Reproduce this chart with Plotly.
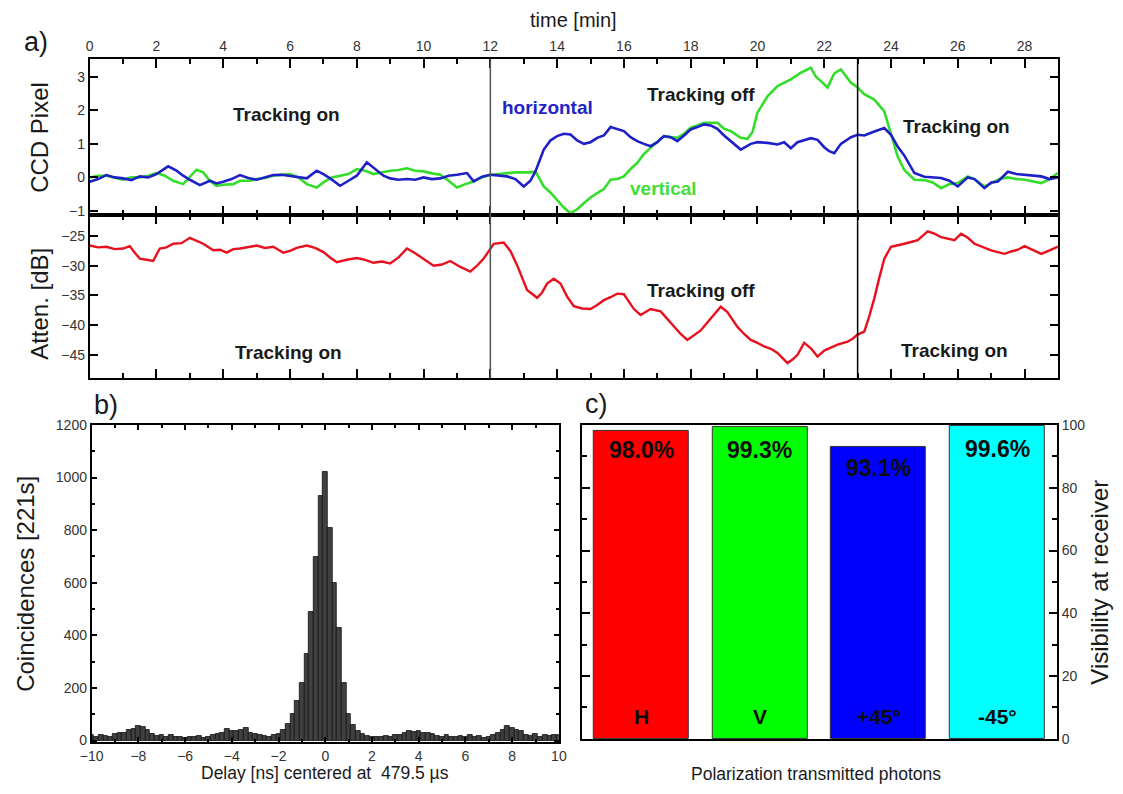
import plotly.graph_objects as go

W, H = 1123, 794

# ---------------- Panel a data ----------------
t_h = [0, 0.25, 0.5, 0.75, 1, 1.25, 1.5, 1.75, 2, 2.15, 2.35, 2.6, 2.8, 3, 3.3, 3.6, 3.8, 4, 4.25, 4.5, 4.75,
       5, 5.25, 5.5, 5.75, 6, 6.25, 6.5, 6.8, 7.0, 7.2, 7.5, 7.75, 8, 8.3, 8.6, 8.8, 9, 9.25, 9.5, 9.75,
       10, 10.25, 10.5, 10.75, 11, 11.3, 11.5, 11.75, 12, 12.25, 12.5, 12.75, 13, 13.2, 13.35, 13.6, 13.8,
       14, 14.2, 14.4, 14.6, 14.8, 15, 15.2, 15.4, 15.6, 15.8, 16, 16.2, 16.4, 16.6, 16.8, 17, 17.2, 17.4,
       17.6, 17.8, 18, 18.2, 18.4, 18.6, 18.8, 19, 19.2, 19.5, 19.8, 20, 20.3, 20.6, 20.8, 21, 21.2, 21.4,
       21.6, 21.8, 22, 22.15, 22.3, 22.5, 22.8, 23, 23.2, 23.5, 23.8, 24, 24.2, 24.4, 24.7, 25, 25.25, 25.5,
       25.75, 26, 26.3, 26.5, 26.8, 27, 27.2, 27.5, 27.75, 28, 28.25, 28.5, 28.75, 29]
ccd_horizontal = [-0.13, -0.05, 0.07, 0.0, -0.03, -0.08, 0.03, 0.0, 0.1, 0.2, 0.33, 0.2, 0.05, -0.07, -0.23, -0.1,
                  -0.18, -0.13, -0.05, 0.07, -0.02, -0.07, 0.0, 0.07, 0.08, 0.05, 0.02, -0.03, 0.2, 0.1, -0.03,
                  -0.25, -0.1, 0.05, 0.45, 0.2, 0.05, -0.03, -0.07, -0.05, -0.07, 0.0, -0.05, -0.03, 0.05, 0.08,
                  0.13, -0.12, 0.02, 0.08, 0.05, 0.03, -0.05, -0.27, -0.1, 0.18, 0.83, 1.1, 1.23, 1.3, 1.28, 1.1,
                  1.0, 1.05, 1.18, 1.25, 1.5, 1.45, 1.38, 1.2, 1.08, 1.0, 0.93, 1.05, 1.23, 1.2, 1.08, 1.25, 1.43,
                  1.5, 1.58, 1.55, 1.45, 1.25, 1.08, 0.83, 1.0, 1.05, 1.03, 0.98, 1.05, 0.87, 1.05, 1.1, 1.17, 1.12,
                  0.9, 0.78, 0.72, 1.0, 1.2, 1.27, 1.25, 1.37, 1.47, 1.27, 0.92, 0.65, 0.13, 0.02, 0.0, -0.02, -0.1,
                  -0.27, 0.0, -0.05, -0.32, -0.15, -0.12, 0.17, 0.1, 0.08, 0.05, 0.03, -0.05, 0.0]

t_v = [0, 0.25, 0.5, 0.75, 1, 1.25, 1.5, 1.75, 2, 2.25, 2.5, 2.8, 3.0, 3.2, 3.4, 3.6, 3.8, 4.0, 4.3, 4.5, 4.8,
       5, 5.25, 5.5, 5.75, 6, 6.25, 6.5, 6.8, 7.0, 7.25, 7.5, 7.75, 8, 8.25, 8.5, 8.75, 9, 9.25, 9.5, 9.75,
       10, 10.25, 10.5, 10.75, 11, 11.25, 11.5, 11.75, 12, 12.25, 12.5, 12.75, 13, 13.2, 13.35, 13.6, 13.8,
       14, 14.2, 14.4, 14.6, 14.8, 15, 15.2, 15.4, 15.6, 15.8, 16, 16.2, 16.4, 16.6, 16.8, 17, 17.2, 17.4,
       17.6, 17.8, 18, 18.2, 18.4, 18.6, 18.8, 19, 19.2, 19.5, 19.7, 19.85, 20, 20.3, 20.6, 21, 21.3, 21.6,
       21.75, 21.9, 22.1, 22.3, 22.5, 22.8, 23, 23.2, 23.5, 23.8, 24, 24.2, 24.4, 24.7, 25, 25.25, 25.5,
       25.75, 26, 26.3, 26.5, 26.8, 27, 27.25, 27.5, 27.75, 28, 28.25, 28.5, 28.75, 29]
ccd_vertical = [0.0, 0.05, 0.05, -0.02, -0.07, 0.0, 0.0, 0.05, 0.13, 0.05, -0.1, -0.2, 0.0, 0.23, 0.15, -0.1,
                -0.25, -0.22, -0.2, -0.1, -0.1, -0.05, -0.02, 0.05, 0.08, 0.1, 0.0, -0.2, -0.3, -0.15, 0.0, 0.05,
                0.1, 0.25, 0.2, 0.1, 0.15, 0.2, 0.22, 0.27, 0.2, 0.18, 0.12, 0.08, -0.1, -0.3, -0.2, -0.12, 0.0,
                0.08, 0.1, 0.13, 0.15, 0.15, 0.15, 0.18, -0.27, -0.45, -0.67, -0.9, -1.07, -0.95, -0.77, -0.6,
                -0.47, -0.35, -0.07, -0.05, 0.03, 0.25, 0.43, 0.7, 0.88, 1.05, 1.23, 1.2, 1.18, 1.3, 1.48, 1.55,
                1.63, 1.63, 1.63, 1.45, 1.38, 1.18, 1.15, 1.35, 1.93, 2.42, 2.72, 2.92, 3.12, 3.27, 3.0, 2.87,
                2.68, 3.1, 3.22, 2.82, 2.68, 2.48, 2.32, 1.97, 1.32, 0.62, 0.22, -0.07, -0.08, -0.15, -0.32,
                -0.2, -0.17, 0.03, -0.05, -0.27, -0.18, -0.05, 0.0, -0.05, -0.07, -0.12, -0.17, -0.05, 0.13]

t_att = [0, 0.25, 0.5, 0.75, 1, 1.2, 1.35, 1.5, 1.7, 1.9, 2.1, 2.3, 2.5, 2.75, 3, 3.2, 3.4, 3.7, 3.9, 4.1, 4.3,
         4.5, 4.75, 5, 5.25, 5.5, 5.8, 6.0, 6.2, 6.5, 6.75, 7, 7.2, 7.4, 7.7, 8, 8.25, 8.5, 8.75, 9, 9.25, 9.5,
         9.75, 10, 10.3, 10.55, 10.8, 11.1, 11.4, 11.6, 11.8, 12.1, 12.4, 12.6, 12.8, 13.1, 13.4, 13.55, 13.7,
         13.9, 14.1, 14.3, 14.5, 14.75, 15, 15.2, 15.4, 15.6, 15.8, 16, 16.15, 16.3, 16.5, 16.8, 17.1, 17.3,
         17.5, 17.7, 17.9, 18.1, 18.3, 18.6, 18.9, 19.1, 19.4, 19.6, 19.8, 20.0, 20.2, 20.4, 20.6, 20.9, 21.05,
         21.2, 21.4, 21.6, 21.8, 22.0, 22.2, 22.4, 22.7, 22.85, 23, 23.2, 23.35, 23.5, 23.65, 23.8, 24, 24.2,
         24.4, 24.6, 24.8, 25.1, 25.3, 25.5, 25.7, 25.9, 26.1, 26.3, 26.5, 26.75, 27, 27.2, 27.4, 27.6, 27.8,
         28, 28.25, 28.5, 28.75, 29]
attenuation = [-26.6, -26.9, -26.8, -27.2, -27.1, -26.7, -27.8, -28.8, -29.0, -29.2, -27.1, -26.9, -26.3, -26.2,
               -25.3, -25.8, -26.3, -27.4, -27.3, -27.8, -27.2, -27.1, -26.8, -26.6, -27.0, -26.8, -27.8, -27.5,
               -27.0, -26.6, -27.0, -27.7, -28.6, -29.4, -29.0, -28.7, -29.0, -29.5, -29.3, -29.6, -28.6, -27.1,
               -27.9, -28.8, -30.0, -29.8, -29.2, -30.2, -31.0, -30.0, -28.8, -26.3, -26.1, -27.5, -29.9, -34.1,
               -35.4, -34.5, -33.0, -32.2, -33.0, -35.2, -36.8, -37.2, -37.3, -36.6, -35.8, -35.3, -34.7, -34.8,
               -36.0, -37.3, -38.3, -37.3, -37.7, -39.0, -40.3, -41.5, -42.5, -41.7, -40.9, -38.9, -36.9, -37.8,
               -40.3, -41.5, -42.5, -43.0, -43.6, -44.0, -44.7, -46.4, -45.8, -45.0, -43.0, -43.9, -45.3, -44.3,
               -43.8, -43.3, -42.8, -42.3, -41.6, -41.1, -38.5, -35.5, -32.0, -28.8, -26.8, -26.6, -26.3, -26.0,
               -25.7, -24.2, -24.6, -25.2, -25.4, -25.7, -24.6, -25.3, -26.3, -26.9, -27.4, -27.7, -28.0, -27.6,
               -27.3, -26.7, -27.3, -28.0, -27.4, -26.8]

time_ticks = [0, 2, 4, 6, 8, 10, 12, 14, 16, 18, 20, 22, 24, 26, 28]
ccd_ticks = [-1, 0, 1, 2, 3]
att_ticks = [-45, -40, -35, -30, -25]
switch_times = [12, 23]

# ---------------- Panel b data ----------------
delay_ns = [-10.0, -9.8, -9.6, -9.4, -9.2, -9.0, -8.8, -8.6, -8.4, -8.2, -8.0, -7.8, -7.6, -7.4, -7.2, -7.0,
            -6.8, -6.6, -6.4, -6.2, -6.0, -5.8, -5.6, -5.4, -5.2, -5.0, -4.8, -4.6, -4.4, -4.2, -4.0, -3.8,
            -3.6, -3.4, -3.2, -3.0, -2.8, -2.6, -2.4, -2.2, -2.0, -1.8, -1.6, -1.4, -1.2, -1.0, -0.8, -0.6,
            -0.4, -0.2, 0.0, 0.2, 0.4, 0.6, 0.8, 1.0, 1.2, 1.4, 1.6, 1.8, 2.0, 2.2, 2.4, 2.6, 2.8, 3.0, 3.2,
            3.4, 3.6, 3.8, 4.0, 4.2, 4.4, 4.6, 4.8, 5.0, 5.2, 5.4, 5.6, 5.8, 6.0, 6.2, 6.4, 6.6, 6.8, 7.0,
            7.2, 7.4, 7.6, 7.8, 8.0, 8.2, 8.4, 8.6, 8.8, 9.0, 9.2, 9.4, 9.6, 9.8, 10.0]
coincidences = [20, 15, 22, 18, 12, 25, 30, 28, 40, 45, 55, 50, 42, 25, 18, 22, 15, 20, 12, 15, 10, 14, 12,
                18, 10, 15, 20, 25, 30, 45, 38, 35, 42, 48, 30, 25, 22, 18, 15, 20, 25, 40, 65, 100, 150,
                220, 330, 490, 700, 930, 1020, 810, 600, 430, 220, 100, 60, 35, 25, 18, 15, 12, 15, 18, 15,
                20, 22, 30, 35, 32, 38, 30, 28, 25, 18, 15, 20, 12, 15, 18, 12, 22, 15, 18, 10, 15, 20, 28,
                40, 55, 48, 42, 35, 22, 18, 25, 15, 20, 18, 22, 20]

# ---------------- Panel c data ----------------
polarizations = ["H", "V", "+45°", "-45°"]
visibility = [98.0, 99.3, 93.1, 99.6]
visibility_labels = ["98.0%", "99.3%", "93.1%", "99.6%"]
bar_colors = ["#ff0000", "#00ff00", "#0000ff", "#00ffff"]

FONT = "Liberation Sans, Arial, sans-serif"

# layout positions are given as reference-image pixels; small correction for how the page is captured
def px(x):
    return ((x - 8) / 0.986) / W

def py(y):
    return 1 - ((y - 6) / 0.98) / H

fig = go.Figure()

fig.add_trace(go.Scatter(x=t_v, y=ccd_vertical, mode="lines", line=dict(color="#33dd2a", width=2.6),
                         xaxis="x", yaxis="y", showlegend=False))
fig.add_trace(go.Scatter(x=t_h, y=ccd_horizontal, mode="lines", line=dict(color="#1f1fc8", width=2.6),
                         xaxis="x", yaxis="y", showlegend=False))
fig.add_trace(go.Scatter(x=t_att, y=attenuation, mode="lines", line=dict(color="#e8101e", width=2.4),
                         xaxis="x2", yaxis="y2", showlegend=False))
fig.add_trace(go.Bar(x=delay_ns, y=coincidences, width=0.2, marker=dict(color="#404040",
                     line=dict(color="#111111", width=0.8)), xaxis="x3", yaxis="y3", showlegend=False))
fig.add_trace(go.Bar(x=list(range(len(polarizations))), y=visibility, width=0.8,
                     marker=dict(color=bar_colors, line=dict(color="#333333", width=1)),
                     xaxis="x4", yaxis="y4", showlegend=False))

axis_common = dict(showline=True, linecolor="black", linewidth=1.8, mirror="ticks", ticks="inside",
                   tickcolor="black", tickwidth=1.6, showgrid=False, zeroline=False,
                   tickfont=dict(family=FONT, size=14, color="#333333"))

xa_dom = [px(86), px(1058)]
fig.update_layout(
    width=W, height=H, margin=dict(l=0, r=0, t=0, b=0),
    paper_bgcolor="white", plot_bgcolor="white", bargap=0,
    xaxis=dict(axis_common, domain=xa_dom, range=[0, 29], side="top", anchor="y", tickvals=time_ticks,
               ticklen=9, minor=dict(dtick=1, tick0=0, ticklen=5, ticks="inside", tickcolor="black")),
    yaxis=dict(axis_common, domain=[py(213), py(57)], range=[-1.12, 3.53], anchor="x", tickvals=ccd_ticks,
               ticklen=8),
    xaxis2=dict(axis_common, domain=xa_dom, range=[0, 29], anchor="y2", tickvals=time_ticks,
                showticklabels=False, ticklen=9,
                minor=dict(dtick=1, tick0=0, ticklen=5, ticks="inside", tickcolor="black")),
    yaxis2=dict(axis_common, domain=[py(376), py(213)], range=[-48.9, -21.45], anchor="x2",
                tickvals=att_ticks, ticklen=8),
    xaxis3=dict(axis_common, domain=[px(88), px(557)], range=[-10, 10], anchor="y3", dtick=2, tick0=-10,
                ticklen=5, minor=dict(dtick=1, ticklen=3, ticks="inside", tickcolor="black")),
    yaxis3=dict(axis_common, domain=[py(740), py(423)], range=[-5, 1200], anchor="x3",
                tickvals=[0, 200, 400, 600, 800, 1000, 1200], ticklen=5,
                minor=dict(dtick=100, tick0=0, ticklen=3, ticks="inside", tickcolor="black")),
    xaxis4=dict(axis_common, domain=[px(580), px(1057)], range=[-0.5, 3.5], anchor="y4",
                showticklabels=False, ticks="", mirror=True),
    yaxis4=dict(axis_common, domain=[py(737), py(423)], range=[0, 100], anchor="x4", side="right",
                tickvals=[0, 20, 40, 60, 80, 100], ticklen=8,
                minor=dict(dtick=10, tick0=0, ticklen=5, ticks="inside", tickcolor="black")),
)

for ts, col in zip(switch_times, ["#555555", "#000000"]):
    fig.add_shape(type="line", xref="x", yref="paper", x0=ts, x1=ts, y0=py(376), y1=py(57),
                  line=dict(color=col, width=1.5))

anns = []
def txt(text, x, y, size=19, color="#1a1a1a", bold=True, xref="paper", yref="paper", angle=0):
    anns.append(dict(text=("<b>%s</b>" % text) if bold else text, x=x, y=y, xref=xref, yref=yref,
                     showarrow=False, textangle=angle, font=dict(family=FONT, size=size, color=color),
                     xanchor="center", yanchor="middle"))

# panel a texts
txt("Tracking on", 5.9, 1.88, xref="x", yref="y")
txt("horizontal", 13.7, 2.09, color="#2323c8", xref="x", yref="y")
txt("Tracking off", 18.3, 2.48, xref="x", yref="y")
txt("vertical", 17.2, -0.34, color="#44dd33", xref="x", yref="y")
txt("Tracking on", 25.95, 1.52, xref="x", yref="y")
txt("Tracking on", 5.95, -44.6, xref="x2", yref="y2")
txt("Tracking off", 18.3, -34.1, xref="x2", yref="y2")
txt("Tracking on", 25.9, -44.3, xref="x2", yref="y2")
txt("time [min]", px(572), py(18), size=20, bold=False)
txt("CCD Pixel", px(36), py(135), size=24, bold=False, angle=-90)
txt("Atten. [dB]", px(36), py(302), size=24, bold=False, angle=-90)
txt("a)", px(32), py(40), size=27, bold=False)

# panel b texts
txt("b)", px(102), py(403), size=27, bold=False)
txt("Coincidences [221s]", px(22), py(582), size=24, bold=False, angle=-90)
txt("Delay [ns] centered at  479.5 µs", px(322), py(771), size=17.5, bold=False)

# panel c texts
txt("c)", px(595), py(402), size=27, bold=False)
txt("Polarization transmitted photons", px(815), py(772), size=17.5, bold=False)
txt("Visibility at receiver", px(1100), py(580), size=24, bold=False, angle=-90)
label_y = [92, 92, 86.3, 92.3]
for i, (lab, ly) in enumerate(zip(visibility_labels, label_y)):
    txt(lab, i, ly, size=23, color="#0d0d0d", xref="x4", yref="y4")
for i, p in enumerate(polarizations):
    txt(p, i, 7, size=21, color="#0d0d0d", xref="x4", yref="y4")

fig.update_layout(annotations=anns)
fig.write_html("out.html", config={"displayModeBar": False},
               post_script="document.body.style.margin='0px';document.body.style.overflow='hidden';")
